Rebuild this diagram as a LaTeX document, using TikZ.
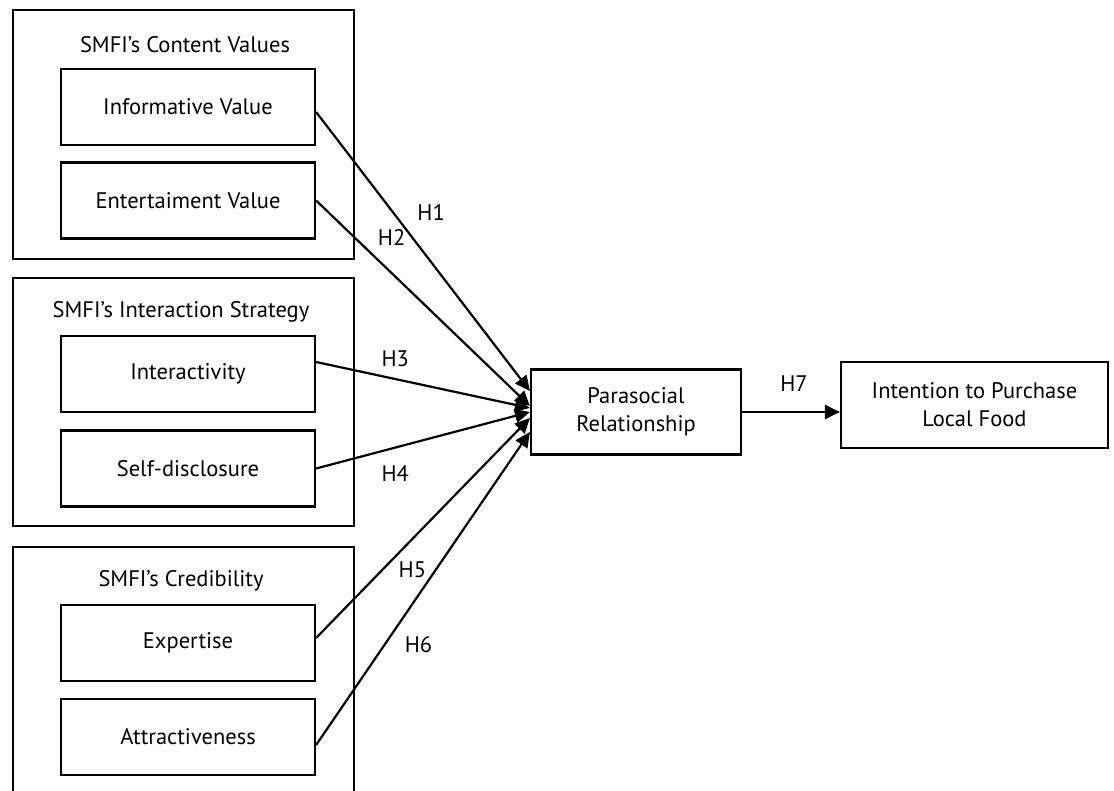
\documentclass[tikz,border=0pt]{standalone}
\usepackage{fontspec}
\setmainfont{PT Sans}
\usetikzlibrary{arrows.meta}

\tikzset{
  group/.style={draw, line width=2.2pt, minimum width=341pt, inner sep=0pt},
  item/.style={draw, line width=2.2pt, minimum width=254pt, minimum height=76pt, inner sep=0pt},
  bigbox/.style={draw, line width=2.2pt, inner sep=0pt, align=center},
  hyp/.style={inner sep=0pt},
  link/.style={line width=2.2pt, -{Triangle[length=15pt,width=14pt]}}
}

\begin{document}
\begin{tikzpicture}[x=1pt, y=-1pt, font=\fontsize{22.5}{28}\selectfont]
\useasboundingbox (0,0) rectangle (1114,791);
% nodes
\node[group, minimum height=249pt] (cv) at (183.5, 134.5) {};
    \node (cvtitle) at (185, 45) {SMFI’s Content Values};
    \node[item] (inf) at (188, 107) {Informative Value};
    \node[item] (ent) at (188, 200.5) {Entertaiment Value};
\node[group, minimum height=248pt] (is) at (183.5, 402) {};
    \node (istitle) at (181, 312) {SMFI’s Interaction Strategy};
    \node[item] (itr) at (188, 374) {Interactivity};
    \node[item] (sd) at (188, 468.5) {Self-disclosure};
\node[group, minimum height=270pt] (cr) at (183.5, 682) {};
    \node (crtitle) at (181, 581) {SMFI’s Credibility};
    \node[item] (exp) at (188, 643) {Expertise};
    \node[item] (att) at (188, 737) {Attractiveness};
\node[bigbox, minimum width=210pt, minimum height=85pt] (psr) at (636, 412) {Parasocial\\Relationship};
\node[bigbox, minimum width=267pt, minimum height=86pt] (ipl) at (974.5, 405) {Intention to Purchase\\Local Food};
% arrows
\draw[link] ([yshift=-5pt]inf.east) -- node[hyp, pos=0.36, xshift=38pt]{H1} ([yshift=21pt]psr.west);
\draw[link] (ent.east) -- node[hyp, pos=0.18, xshift=37pt]{H2} ([yshift=6pt]psr.west);
\draw[link] ([yshift=12pt]itr.east) -- node[hyp, pos=0.37, yshift=20pt]{H3} ([yshift=4pt]psr.west);
\draw[link] (sd.east) -- node[hyp, pos=0.37, yshift=-26pt]{H4} (psr.west);
\draw[link] ([yshift=5pt]exp.east) -- node[hyp, pos=0.31, xshift=30pt]{H5} ([yshift=-6pt]psr.west);
\draw[link] ([yshift=-8pt]att.east) -- node[hyp, pos=0.32, xshift=34pt]{H6} ([yshift=-20pt]psr.west);
\draw[link] (psr.east) -- node[hyp, pos=0.53, yshift=28pt]{H7} (psr.east -| ipl.west);
\end{tikzpicture}
\end{document}
